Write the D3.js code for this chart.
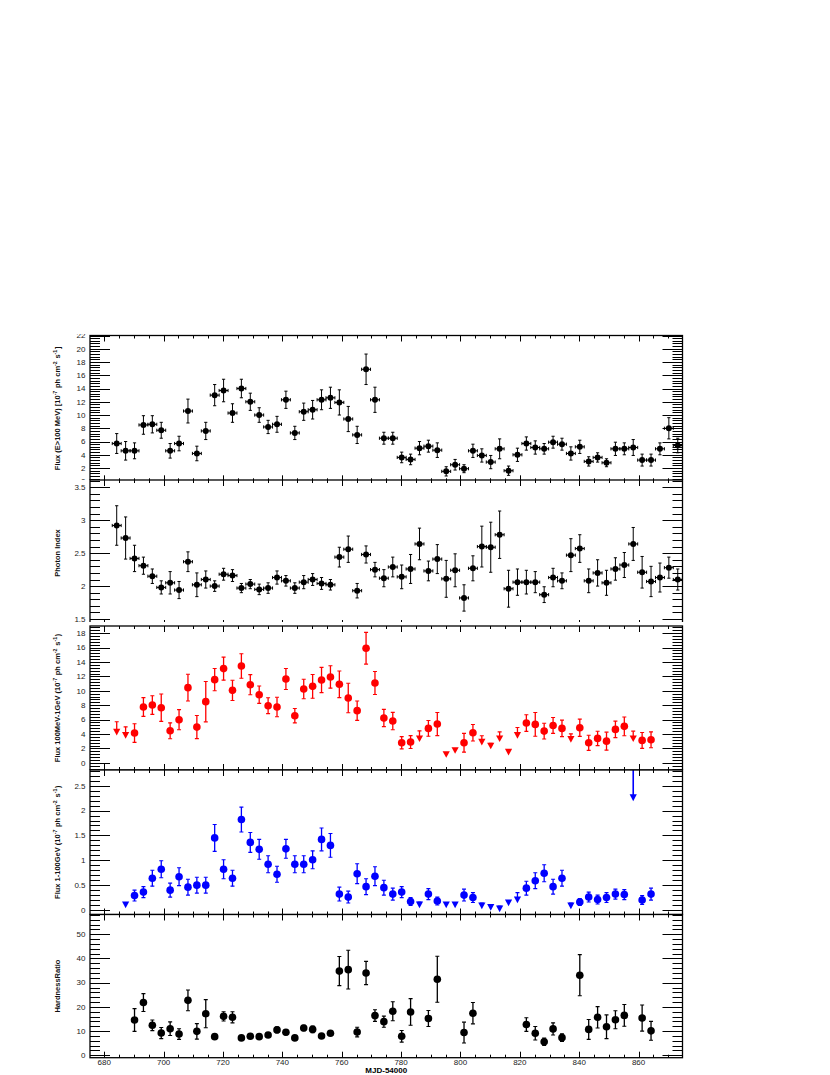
<!DOCTYPE html>
<html><head><meta charset="utf-8">
<script src="https://cdn.jsdelivr.net/npm/d3@7"></script>
<style>
body{margin:0;background:#fff}
svg text{font-family:"Liberation Sans",Arial,Helvetica,sans-serif}
</style></head>
<body><svg id="c" width="830" height="1075"></svg>
<script>
// ---- DATA ----
const mjd = [684.2,687.2,690.2,693.2,696.2,699.2,702.2,705.2,708.2,711.2,714.2,717.2,720.2,723.2,726.2,729.2,732.2,735.2,738.2,741.2,744.2,747.2,750.2,753.2,756.2,759.2,762.2,765.2,768.2,771.2,774.2,777.2,780.2,783.2,786.2,789.2,792.2,795.2,798.2,801.2,804.2,807.2,810.2,813.2,816.2,819.2,822.2,825.2,828.2,831.2,834.2,837.2,840.2,843.2,846.2,849.2,852.2,855.2,858.2,861.2,864.2,867.2,870.2,873.2];

const fluxAll = [5.7,4.6,4.6,8.5,8.6,7.7,4.6,5.7,10.6,4.2,7.6,13.0,13.7,10.3,14.0,12.0,10.0,8.2,8.6,12.3,7.3,10.5,10.8,12.3,12.6,11.9,9.4,7.0,16.9,
  12.3,6.5,6.5,3.6,3.3,5.0,5.3,4.7,1.5,2.5,1.9,4.6,3.9,2.9,4.9,1.6,4.0,5.7,5.1,4.9,5.9,5.6,4.2,5.2,3.0,3.6,2.8,4.9,4.9,5.1,3.2,3.2,4.9,8.0,5.4];
const fluxAllErr = [1.5,1.4,1.2,1.4,1.3,1.2,1.1,1.1,1.8,1.1,1.3,1.6,1.7,1.4,1.4,1.3,1.1,1.0,1.2,1.3,1.0,1.3,1.4,1.5,1.6,1.9,1.9,1.3,2.3,
  1.9,0.9,0.9,0.8,0.8,1.0,0.9,1.1,0.7,0.8,0.6,1.0,1.0,1.0,1.5,0.7,1.0,1.0,1.0,0.8,0.9,0.9,1.0,1.0,0.7,0.7,0.6,1.0,0.9,1.2,0.9,0.9,0.9,1.6,1.1];

const photonIndex = [2.92,2.73,2.42,2.31,2.15,1.98,2.05,1.94,2.37,2.02,2.10,2.00,2.18,2.16,1.97,2.03,1.95,1.97,2.13,2.08,1.97,2.06,2.10,2.04,2.02,2.44,2.56,1.93,2.48,
  2.25,2.12,2.29,2.14,2.26,2.64,2.23,2.41,2.11,2.24,1.82,2.27,2.60,2.59,2.78,1.96,2.06,2.06,2.06,1.87,2.13,2.08,2.47,2.57,2.08,2.20,2.05,2.26,2.32,2.64,2.21,2.07,2.13,2.28,2.10];
const photonIndexErr = [0.30,0.32,0.20,0.13,0.11,0.10,0.17,0.13,0.15,0.18,0.13,0.08,0.09,0.09,0.07,0.07,0.08,0.08,0.10,0.08,0.08,0.10,0.09,0.09,0.08,0.15,0.20,0.11,0.13,
  0.11,0.13,0.15,0.18,0.22,0.24,0.15,0.22,0.28,0.25,0.20,0.19,0.31,0.38,0.36,0.28,0.20,0.18,0.16,0.12,0.14,0.12,0.25,0.21,0.18,0.20,0.19,0.17,0.19,0.25,0.24,0.23,0.22,0.16,0.16];

const fluxLow = [4.3,3.85,4.13,7.75,8.02,7.65,4.45,5.98,10.44,4.96,8.49,11.55,13.08,10.06,13.45,10.85,9.46,7.93,7.75,11.64,6.54,10.25,10.62,11.5,11.92,10.9,9.0,7.24,15.91,
  11.09,6.22,5.8,2.78,2.88,3.39,4.78,5.38,1.2,1.76,2.78,4.17,2.92,2.37,3.39,1.53,3.85,5.52,5.33,4.4,5.19,4.78,3.29,4.87,2.78,3.39,3.01,4.64,5.06,3.39,3.11,3.2,null,null,null];
const fluxLowErr = [1.4,1.15,1.3,1.3,1.3,1.9,1.1,1.4,1.85,1.6,2.8,1.55,1.6,1.4,1.7,1.4,1.2,1.1,1.35,1.45,1.0,1.35,1.65,1.75,1.55,1.85,2.05,1.35,2.2,
  1.6,1.2,1.2,0.85,0.9,1.05,1.1,1.6,0,0,1.3,1.15,0.84,0.33,0.9,0,1.05,1.15,1.65,1.1,1.1,1.15,0.74,1.2,1.05,1.0,1.25,1.15,1.3,1.0,1.1,1.1,null,null,null];
const fluxLowUL = [0,1,34,37,38,41,42,43,44,45,51,58];

const fluxHigh = [null,0.11,0.29,0.36,0.64,0.82,0.40,0.67,0.46,0.50,0.50,1.45,0.82,0.64,1.82,1.36,1.22,0.92,0.72,1.23,0.92,0.92,1.01,1.42,1.30,0.32,0.26,0.73,0.47,
  0.68,0.45,0.32,0.36,0.17,0.11,0.32,0.18,0.11,0.11,0.30,0.25,0.09,0.06,0.03,0.15,0.21,0.44,0.59,0.74,0.47,0.64,0.09,0.16,0.26,0.21,0.25,0.32,0.31,2.19,0.20,0.32,null,null,null];
const fluxHighErr = [null,0,0.11,0.11,0.16,0.17,0.14,0.18,0.16,0.16,0.16,0.27,0.19,0.16,0.25,0.2,0.2,0.17,0.16,0.19,0.17,0.17,0.18,0.23,0.24,0.14,0.12,0.2,0.16,
  0.19,0.15,0.12,0.11,0.08,0.05,0.11,0.08,0,0,0.12,0.1,0.05,0.04,0.05,0.03,0.14,0.14,0.16,0.17,0.15,0.16,0.05,0.07,0.1,0.09,0.1,0.1,0.1,0,0.09,0.12,null,null,null];
const fluxHighUL = [1,34,37,38,41,42,43,44,45,51];
const fluxHighArrow = [58];

const hardness = [null,null,14.6,21.8,12.4,9.2,11.0,8.8,22.7,9.9,17.2,7.7,16.1,15.7,7.2,7.9,7.7,8.4,10.5,9.5,7.2,11.3,10.7,8.0,9.1,34.8,35.4,9.6,34.0,
  16.4,13.9,18.2,7.85,17.9,null,15.2,31.4,null,null,9.4,17.4,null,null,null,null,null,12.7,9.1,5.6,10.9,7.3,null,33.1,10.7,15.7,11.8,14.7,16.5,null,15.4,10.1,null,null,null];
const hardnessErr = [null,null,4.7,3.7,2.2,2.3,2.8,2.2,4.3,3.2,5.8,0.8,1.9,2.3,0.8,0.8,0.8,1.0,1.2,1.0,0.8,1.1,1.4,0.8,0.9,6.0,8.0,2.0,4.8,
  2.4,2.3,3.9,2.4,5.5,null,3.3,9.5,null,null,4.3,4.4,null,null,null,null,null,2.8,2.8,1.5,2.5,1.6,null,8.5,4.1,4.4,4.9,3.7,4.5,null,5.4,3.9,null,null,null];

const xTickLabels = [680,700,720,740,760,780,800,820,840,860];
const binHalfWidth = 1.5;

// ---- LAYOUT ----
const svg = d3.select("#c");
const X0 = 90, X1 = 682.5;
const x = d3.scaleLinear().domain([675.2, 874.8]).range([X0, X1]);

const panels = [
  {id:"p1", frame:[335.5,481.3], domain:[0,22], clip:[334,480], major:2, minor:0.4,
   title:[["Flux (E>100 MeV) [10"],["-7",1],[" ph cm"],["-2",1],[" s"],["-1",1],["]"]],
   values:fluxAll, errs:fluxAllErr, color:"#000", style:"xy"},
  {id:"p2", frame:[480,626], domain:[1.394,3.611], clip:[480,626], major:0.5, minor:0.1,
   title:[["Photon Index"]], values:photonIndex, errs:photonIndexErr, color:"#000", style:"xy"},
  {id:"p3", frame:[626,770], domain:[-1,19], clip:[622,770], major:2, minor:0.4,
   title:[["Flux 100MeV-1GeV (10"],["-7",1],[" ph cm"],["-2",1],[" s"],["-1",1],[")"]],
   values:fluxLow, errs:fluxLowErr, ul:fluxLowUL, color:"#ff0000", style:"y"},
  {id:"p4", frame:[770,914.5], domain:[-0.09,2.816], clip:[770,914.5], major:0.5, minor:0.1,
   title:[["Flux 1-100GeV (10"],["-7",1],[" ph cm"],["-2",1],[" s"],["-1",1],[")"]],
   values:fluxHigh, errs:fluxHighErr, ul:fluxHighUL, arrows:fluxHighArrow, color:"#0000ff", style:"y"},
  {id:"p5", frame:[914.5,1057.7], domain:[-0.99,58.18], clip:[914.5,1075], major:10, minor:2,
   title:[["HardnessRatio"]], values:hardness, errs:hardnessErr, color:"#000", style:"y", xlabels:true}
];

function ticks(lo, hi, step){
  const out=[]; const s=Math.ceil(lo/step-1e-9);
  for(let i=s; i*step<=hi+1e-9; i++) out.push(+(i*step).toFixed(6));
  return out;
}

const defs = svg.append("defs");

panels.forEach((p,pi)=>{
  const y = d3.scaleLinear().domain(p.domain).range([p.frame[1], p.frame[0]]);
  const g = svg.append("g").attr("id", p.id);
  const [ft, fb] = p.frame;

  defs.append("clipPath").attr("id","lab"+pi).append("rect")
    .attr("x",0).attr("y",p.clip[0]).attr("width",830).attr("height",p.clip[1]-p.clip[0]);
  defs.append("clipPath").attr("id","dat"+pi).append("rect")
    .attr("x",X0).attr("y",ft).attr("width",X1-X0).attr("height",fb-ft);

  const lab = g.append("g").attr("clip-path","url(#lab"+pi+")");
  lab.append("rect").attr("x",0).attr("y",p.clip[0]).attr("width",830).attr("height",p.clip[1]-p.clip[0]).attr("fill","#fff");

  const ymaj = ticks(p.domain[0], p.domain[1], p.major);
  const ymin = ticks(p.domain[0], p.domain[1], p.minor);
  const ax = lab.append("g").attr("stroke","#000").attr("stroke-width",1);
  const all = ymin.slice();
  ymaj.forEach(v=>{ if(!all.some(m=>Math.abs(m-v)<1e-6)) all.push(v); });
  all.forEach(v=>{
    const isMaj = ymaj.some(m=>Math.abs(m-v)<1e-6);
    const L = isMaj?20:10; const yy = Math.round(y(v))+0.5;
    ax.append("line").attr("x1",X0).attr("x2",X0+L).attr("y1",yy).attr("y2",yy);
    ax.append("line").attr("x1",X1).attr("x2",X1-L).attr("y1",yy).attr("y2",yy);
  });
  const xmaj = ticks(675.2, 874.8, 20), xmin = ticks(675.2, 874.8, 5);
  xmin.forEach(v=>{
    const isMaj = xmaj.some(m=>Math.abs(m-v)<1e-6);
    const L = isMaj?6:3; const xx = Math.round(x(v))+0.5;
    ax.append("line").attr("x1",xx).attr("x2",xx).attr("y1",ft).attr("y2",ft+L);
    ax.append("line").attr("x1",xx).attr("x2",xx).attr("y1",fb).attr("y2",fb-L);
  });

  // y tick labels: those whose centre lies within (or just at) this pad
  const span = p.domain[1]-p.domain[0];
  ticks(p.domain[0]-0.1*span, p.domain[1]+0.1*span, p.major).forEach(v=>{
    const yy = y(v);
    if(yy < p.clip[0]-2 || yy > p.clip[1]+2) return;
    lab.append("text").attr("x",X0-4.5).attr("y",yy).attr("dy","0.35em")
      .attr("text-anchor","end").attr("font-size",8).attr("fill","#222")
      .text(String(+v.toFixed(2)));
  });

  const tc = (ft+fb)/2;
  const t = lab.append("text").attr("transform",`translate(59.5,${tc}) rotate(-90)`)
    .attr("text-anchor","middle").attr("font-size",7.5).attr("font-weight","bold").attr("fill","#111");
  p.title.forEach(([s,sup])=>{
    if(sup){ t.append("tspan").attr("dy",-3).attr("font-size",5.2).text(s); t.append("tspan").attr("dy",3).text("\u200A"); }
    else t.append("tspan").text(s);
  });

  if(p.xlabels){
    xTickLabels.forEach(v=>{
      lab.append("text").attr("x",x(v)).attr("y",fb+7.5).attr("text-anchor","middle")
        .attr("font-size",8).attr("fill","#222").text(v);
    });
    lab.append("text").attr("x",(X0+X1)/2).attr("y",fb+15).attr("text-anchor","middle")
      .attr("font-size",8).attr("font-weight","bold").attr("fill","#000").text("MJD-54000");
  }

  const dg = g.append("g").attr("clip-path","url(#dat"+pi+")");
  const col = p.color;
  const ul = p.ul||[], arr = p.arrows||[];
  p.values.forEach((v,k)=>{
    if(v==null) return;
    const cx = x(mjd[k]), e = p.errs[k]||0;
    if(arr.includes(k)){
      const tip = y(v);
      dg.append("line").attr("x1",cx).attr("x2",cx).attr("y1",ft).attr("y2",tip-5).attr("stroke",col).attr("stroke-width",1.6);
      dg.append("path").attr("d",`M${cx-3.6},${tip-7}L${cx+3.6},${tip-7}L${cx},${tip}Z`).attr("fill",col);
      return;
    }
    if(ul.includes(k)){
      const cy = y(v);
      if(e>0){
        const yt = y(v+e);
        dg.append("line").attr("x1",cx).attr("x2",cx).attr("y1",yt).attr("y2",cy).attr("stroke",col).attr("stroke-width",1.3);
        dg.append("line").attr("x1",cx-2).attr("x2",cx+2).attr("y1",yt).attr("y2",yt).attr("stroke",col).attr("stroke-width",1.2);
      }
      dg.append("path").attr("d",`M${cx-3.6},${cy-3}L${cx+3.6},${cy-3}L${cx},${cy+3.6}Z`).attr("fill",col);
      return;
    }
    const cy = y(v), y1 = y(v+e), y2 = y(v-e);
    if(p.style==="xy"){
      const xa = x(mjd[k]-binHalfWidth), xb = x(mjd[k]+binHalfWidth);
      dg.append("line").attr("x1",xa).attr("x2",xb).attr("y1",cy).attr("y2",cy).attr("stroke",col).attr("stroke-width",1);
      [xa,xb].forEach(xx=>dg.append("line").attr("x1",xx).attr("x2",xx).attr("y1",cy-1.6).attr("y2",cy+1.6).attr("stroke",col).attr("stroke-width",1));
      dg.append("line").attr("x1",cx).attr("x2",cx).attr("y1",y1).attr("y2",y2).attr("stroke",col).attr("stroke-width",1);
      [y1,y2].forEach(yy=>dg.append("line").attr("x1",cx-1.6).attr("x2",cx+1.6).attr("y1",yy).attr("y2",yy).attr("stroke",col).attr("stroke-width",1));
      dg.append("circle").attr("cx",cx).attr("cy",cy).attr("r",3).attr("fill",col);
    } else {
      dg.append("line").attr("x1",cx).attr("x2",cx).attr("y1",y1).attr("y2",y2).attr("stroke",col).attr("stroke-width",1.3);
      [y1,y2].forEach(yy=>dg.append("line").attr("x1",cx-2).attr("x2",cx+2).attr("y1",yy).attr("y2",yy).attr("stroke",col).attr("stroke-width",1.1));
      dg.append("circle").attr("cx",cx).attr("cy",cy).attr("r",3.8).attr("fill",col);
    }
  });

  g.append("rect").attr("x",X0).attr("y",ft).attr("width",X1-X0).attr("height",fb-ft)
    .attr("fill","none").attr("stroke","#000").attr("stroke-width",1.3);
});
</script></body></html>
